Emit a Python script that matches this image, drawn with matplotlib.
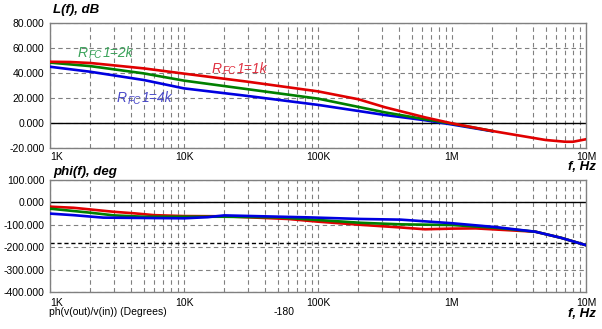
import matplotlib
matplotlib.use("Agg")
import matplotlib.pyplot as plt
from matplotlib.ticker import FixedLocator, NullFormatter, LogLocator

plt.rcParams['font.family'] = ['Liberation Sans', 'DejaVu Sans']

# ---- data: magnitude (dB) ----
f_red_db = [1e3, 1.4e3, 2e3, 5e3, 1e4, 3e4, 1e5, 2e5, 3.16e5, 6.3e5, 1e6, 2e6, 3e6, 5e6, 7e6, 8e6, 1e7]
red_db = [49, 48.8, 48, 43.7, 39.5, 33, 25.3, 19, 12.6, 4.5, -0.3, -6.4, -9.6, -13.6, -15, -15, -13]
f_grn_db = [1e3, 2e3, 5e3, 1e4, 3e4, 1e5, 3.16e5, 6.3e5, 1e6, 2e6]
grn_db = [48.3, 45.5, 39.7, 33.9, 27, 19.5, 8.5, 3, -0.5, -6.4]
f_blu_db = [1e3, 2e3, 5e3, 1e4, 3e4, 1e5, 3.16e5, 6.3e5, 1e6, 2e6]
blu_db = [45, 41, 34.4, 27.7, 21.6, 14.5, 6.4, 2.2, -1.2, -6.6]

# ---- data: phase (deg) ----
f_red_ph = [1e3, 1.5e3, 2.2e3, 3e3, 4.3e3, 6e3, 1e4, 2e4, 6e4, 1e5, 2.08e5, 4.15e5, 6.3e5, 1e6, 1.5e6, 2.8e6, 4.2e6, 6.5e6, 1e7]
red_ph = [-19, -24, -34, -42, -49, -57, -61, -62, -74, -86, -100, -112, -120, -117, -116, -125, -131, -158, -191]
f_grn_ph = [1e3, 2e3, 3e3, 5e3, 2e4, 5.2e4, 1.03e5, 2.08e5, 4.15e5, 1e6, 2.1e6, 4.2e6, 6.5e6, 1e7]
grn_ph = [-28, -46, -58, -64, -64, -67, -79, -91, -98, -101, -113, -131, -158, -191]
f_blu_ph = [1e3, 1.5e3, 2.5e3, 1e4, 1.5e4, 2e4, 8.7e4, 2.08e5, 4.15e5, 1e6, 2.1e6, 4.2e6, 6.5e6, 1e7]
blu_ph = [-50, -57, -68, -71, -66, -58, -67, -74, -77, -93, -110, -131, -158, -191]

x_ticks = [1e3, 1e4, 1e5, 1e6, 1e7]
x_labels = ['1K', '10K', '100K', '1M', '10M']
db_ticks = [-20, 0, 20, 40, 60, 80]
ph_ticks = [-400, -300, -200, -100, 0, 100]
series_names = ['2k', '1k', '4k']

RED = '#e00000'
GRN = '#008000'
BLU = '#0000e0'

W, H = 602, 329
fig = plt.figure(figsize=(W / 100, H / 100), dpi=100)

def px_axes(x0, y0, x1, y1):
    return fig.add_axes([x0 / W, 1 - y1 / H, (x1 - x0) / W, (y1 - y0) / H])

ax1 = px_axes(50, 23, 586, 148)
ax2 = px_axes(50, 180, 586, 292)

def style(ax, yticks, ylim, pad):
    ax.set_xscale('log')
    ax.set_xlim(1e3, 1e7)
    ax.set_ylim(*ylim)
    ax.xaxis.set_major_locator(FixedLocator(x_ticks))
    ax.xaxis.set_minor_locator(LogLocator(base=10, subs=range(2, 10), numticks=20))
    ax.xaxis.set_minor_formatter(NullFormatter())
    ax.set_xticklabels(x_labels)
    ax.set_yticks(yticks)
    ax.set_yticklabels(['%.3f' % v for v in yticks])
    ax.tick_params(axis='both', which='both', length=0, labelsize=7.5)
    ax.tick_params(axis='x', pad=pad)
    ax.tick_params(axis='y', pad=4)
    ax.grid(True, which='both', axis='x', color='#808080', linestyle=(0, (4, 3)), linewidth=0.8)
    ax.grid(True, which='major', axis='y', color='#808080', linestyle=(0, (4, 3)), linewidth=0.8)
    for s in ax.spines.values():
        s.set_color('#808080')
        s.set_linewidth(1.0)
    ax.axhline(0, color='black', linewidth=1.0, zorder=2)
    labs = ax.get_xticklabels()
    labs[0].set_horizontalalignment('left')

style(ax1, db_ticks, (-20, 80), 3)
style(ax2, ph_ticks, (-400, 100), 4)

ax2.axhline(-180, color='black', linewidth=1.0, linestyle=(0, (3, 2)), zorder=2)

lw = 1.9
ax1.plot(f_blu_db, blu_db, color=BLU, lw=lw, zorder=3)
ax1.plot(f_grn_db, grn_db, color=GRN, lw=lw, zorder=4)
ax1.plot(f_red_db, red_db, color=RED, lw=lw, zorder=5)

ax2.plot(f_red_ph, red_ph, color=RED, lw=lw, zorder=3)
ax2.plot(f_grn_ph, grn_ph, color=GRN, lw=lw, zorder=4)
ax2.plot(f_blu_ph, blu_ph, color=BLU, lw=lw, zorder=5)

def ftext(x, y, s, **kw):
    return fig.text(x / W, 1 - y / H, s, **kw)

bi = dict(fontsize=9.5, fontweight='bold', fontstyle='italic')
ftext(53, 4, 'L(f), dB', va='top', ha='left', **bi)
ftext(53, 166, 'phi(f), deg', va='top', ha='left', **bi)
ftext(596, 161, 'f, Hz', va='top', ha='right', **bi)
ftext(596, 308, 'f, Hz', va='top', ha='right', **bi)
ftext(49, 307, 'ph(v(out)/v(in)) (Degrees)', va='top', ha='left', fontsize=7.5)
ftext(295, 307, '-180', va='top', ha='right', fontsize=7.5)

renderer = fig.canvas.get_renderer()

def sub_label(x, y, name, color, size=10):
    kw = dict(va='baseline', ha='left', color=color, fontstyle='italic')
    t = ftext(x, y, 'R', fontsize=size, **kw)
    w = t.get_window_extent(renderer).width
    x += w + 0.5
    t = ftext(x, y + 1.5, 'FC', fontsize=size * 0.72, **kw)
    w = t.get_window_extent(renderer).width
    x += w + 0.5
    ftext(x, y, '1=' + name, fontsize=size, **kw)

sub_label(78, 57, series_names[0], '#3aa35a')
sub_label(212, 73, series_names[1], '#e03040')
sub_label(117, 102, series_names[2], '#4a4ac8')

fig.savefig('out.png', dpi=100)
